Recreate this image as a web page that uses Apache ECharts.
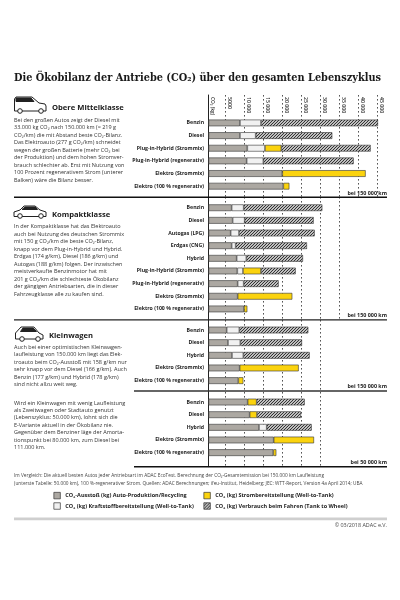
<!DOCTYPE html>
<html><head><meta charset="utf-8">
<style>html,body{margin:0;padding:0;background:#fff}#c{width:400px;height:600px}</style>
<script src="https://cdn.jsdelivr.net/npm/echarts@6/dist/echarts.min.js"></script>
</head><body><div id="c"></div>
<script>
const tickLabels = {5000:'5000',10000:'10 000',15000:'15 000',20000:'20 000',25000:'25 000',30000:'30 000',35000:'35 000',40000:'40 000',45000:'45 000'};
const axisName = 'CO₂ (kg)';

const seriesNames = ['CO₂-Ausstoß (kg) Auto-Produktion/Recycling','CO₂ (kg) Kraftstoffbereitstellung (Well-to-Tank)','CO₂ (kg) Strombereitstellung (Well-to-Tank)','CO₂ (kg) Verbrauch beim Fahren (Tank to Wheel)'];

const cat1 = ['Benzin','Diesel','Plug-in-Hybrid (Strommix)','Plug-in-Hybrid (regenerativ)','Elektro (Strommix)','Elektro (100 % regenerativ)'];
const prod1 = [8760,8760,10690,10520,19900,20170];
const fuel1 = [5530,4130,4650,4390,0,0];
const elec1 = [0,0,4300,0,21930,1580];
const drive1 = [30870,20160,23510,23770,0,0];

const cat2 = ['Benzin','Diesel','Autogas (LPG)','Erdgas (CNG)','Hybrid','Plug-in-Hybrid (Strommix)','Plug-in-Hybrid (regenerativ)','Elektro (Strommix)','Elektro (100 % regenerativ)'];
const prod2 = [6570,6830,6310,6570,7890,8060,8150,8150,9820];
const fuel2 = [3160,3160,2190,1050,2540,1490,1580,0,0];
const elec2 = [0,0,0,0,0,4740,0,14380,870];
const drive2 = [20700,18160,19920,18770,14910,9130,9210,0,0];

const cat3 = ['Benzin','Diesel','Hybrid','Elektro (Strommix)','Elektro (100 % regenerativ)'];
const prod3 = [5260,5610,6660,8680,8330];
const fuel3 = [3330,3240,2980,0,0];
const elec3 = [0,0,0,15530,1310];
const drive3 = [18150,16230,17460,0,0];

const cat4 = ['Benzin','Diesel','Hybrid','Elektro (Strommix)','Elektro (100 % regenerativ)'];
const prod4 = [10780,11310,13770,17630,17530];
const fuel4 = [0,0,2020,0,0];
const elec4 = [2370,1930,0,10610,790];
const drive4 = [12640,11580,11840,0,0];

const bodyTop = ['Bei den großen Autos zeigt der Diesel mit','33.000 kg CO₂ nach 150.000 km (≈ 219 g','CO₂/km) die mit Abstand beste CO₂-Bilanz.','Das Elektroauto (277 g CO₂/km) schneidet','wegen der großen Batterie (mehr CO₂ bei','der Produktion) und dem hohen Stromver-','brauch schlechter ab. Erst mit Nutzung von','100 Prozent regenerativem Strom (unterer','Balken) wäre die Bilanz besser.'];
const bodyMid = ['In der Kompaktklasse hat das Elektroauto','auch bei Nutzung des deutschen Strommix','mit 150 g CO₂/km die beste CO₂-Bilanz,','knapp vor dem Plug-in-Hybrid und Hybrid.','Erdgas (174 g/km), Diesel (186 g/km) und','Autogas (188 g/km) folgen. Der inzwischen','meistverkaufte Benzinmotor hat mit','201 g CO₂/km die schlechteste Ökobilanz','der gängigen Antriebsarten, die in dieser','Fahrzeugklasse alle zu kaufen sind.'];
const bodySmall = ['Auch bei einer optimistischen Kleinwagen-','laufleistung von 150.000 km liegt das Elek-','troauto beim CO₂-Ausstoß mit 158 g/km nur','sehr knapp vor dem Diesel (166 g/km). Auch','Benzin (177 g/km) und Hybrid (178 g/km)','sind nicht allzu weit weg.'];
const bodySmall2 = ['Wird ein Kleinwagen mit wenig Laufleistung','als Zweitwagen oder Stadtauto genutzt','(Lebenszyklus: 50.000 km), lohnt sich die','E-Variante aktuell in der Ökobilanz nie.','Gegenüber dem Benziner läge der Amorta-','tionspunkt bei 80.000 km, zum Diesel bei','111.000 km.'];
const footnote = ['Im Vergleich: Die aktuell besten Autos jeder Antriebsart im ADAC EcoTest. Berechnung der CO₂-Gesamtemission bei 150.000 km Laufleistung','(unterste Tabelle: 50.000 km), 100 %-regenerativer Strom. Quellen: ADAC Berechnungen; ifeu-Institut, Heidelberg; JEC: WTT-Report, Version 4a April 2014; UBA'];

const SANS = '"Open Sans","Noto Sans",sans-serif';
const INK = '#333', GREY = '#aca8a2', YEL = '#fbd30e';
const X0 = 206.7, PXK = 19/5000, BAND = 12.65;
const AXIS_INSET = 470; // the drawn axis line sits slightly right of zero; bars begin at the line

const grid=[], xAxis=[], yAxis=[], series=[];

[[95,197,45000],[197,320,35000],[320,466.7,30000]].forEach((f,i)=>{
  grid.push({left:X0,top:f[0],width:f[2]*PXK,height:f[1]-f[0]});
  xAxis.push({gridIndex:i,type:'value',min:0,max:f[2],interval:5000,position:'top',
    axisLine:{show:false},axisTick:{show:false},
    splitLine:{show:true,showMinLine:false,lineStyle:{color:'#2a2a2a',type:[1.6,2.4],width:.8}},
    axisLabel:i?{show:false}:{show:true,inside:true,rotate:-90,margin:2,align:'left',verticalAlign:'bottom',
      fontFamily:SANS,fontSize:5.2,fontWeight:600,color:'#333',hideOverlap:false,showMinLabel:true,showMaxLabel:true,padding:[0,0,1.3,0],
      formatter:v=>v===0?`{z|${axisName}}`:tickLabels[v],
      rich:{z:{fontFamily:SANS,fontSize:4.8,fontWeight:600,color:'#333',padding:[0,0,2,0]}}}});
  yAxis.push({gridIndex:i,type:'value',min:0,max:1,offset:-1.8,
    axisLine:{show:true,onZero:false,lineStyle:{color:'#222',width:1}},axisTick:{show:false},axisLabel:{show:false},splitLine:{show:false}});
});

// fine diagonal hatch tile
const tile=document.createElement('canvas');tile.width=3;tile.height=3;
(()=>{const c=tile.getContext('2d');c.fillStyle='#fff';c.fillRect(0,0,3,3);c.strokeStyle='#2e2e2e';c.lineWidth=1.15;
  [[-1.5,1.5,1.5,-1.5],[0,3,3,0],[1.5,4.5,4.5,1.5]].forEach(l=>{c.beginPath();c.moveTo(l[0],l[1]);c.lineTo(l[2],l[3]);c.stroke();});})();
const hatch={image:tile,repeat:'repeat'};

const styles = [
  {color:GREY,borderColor:INK,borderWidth:.6},
  {color:'#f1f1f1',borderColor:INK,borderWidth:.6},
  {color:YEL,borderColor:INK,borderWidth:.6},
  {color:hatch,borderColor:INK,borderWidth:.6}
];
const nz = a=>a.map(v=>v===0?null:v);
[[cat1,prod1,fuel1,elec1,drive1,116.6],[cat2,prod2,fuel2,elec2,drive2,201.4],[cat3,prod3,fuel3,elec3,drive3,323.7],[cat4,prod4,fuel4,elec4,drive4,395.7]].forEach((s,k)=>{
  const gi = k+3, n = s[0].length;
  grid.push({left:X0,top:s[5],width:45000*PXK,height:n*BAND});
  xAxis.push({gridIndex:gi,type:'value',min:0,max:45000,show:false,splitLine:{show:false}});
  yAxis.push({gridIndex:gi,type:'category',inverse:true,data:s[0],
    axisLine:{show:false},axisTick:{show:false},splitLine:{show:false},
    axisLabel:{show:true,interval:0,margin:2.6,fontFamily:SANS,fontSize:5.2,fontWeight:700,color:'#222'}});
  const st='s'+k;
  series.push({type:'bar',stack:st,xAxisIndex:gi,yAxisIndex:gi,barWidth:6.7,silent:true,
    itemStyle:{color:'transparent'},data:s[1].map(()=>AXIS_INSET)});
  seriesNames.forEach((nm,j)=>{
    const vals = j===0 ? s[1].map(v=>v-AXIS_INSET) : nz(s[j+1]);
    series.push({type:'bar',name:nm,stack:st,xAxisIndex:gi,yAxisIndex:gi,barWidth:6.7,itemStyle:styles[j],data:vals});
  });
});

const T=(text,x,y,o={})=>({type:'text',x,y,silent:true,style:Object.assign({text,fill:'#333',font:`400 5.5px ${SANS}`,textAlign:'left',textVerticalAlign:'middle'},o)});
const block=(lines,x,y,step)=>lines.map((l,i)=>T(l,x,y+i*step));
const rule=(x1,x2,y,h,fill)=>({type:'rect',shape:{x:x1,y,width:x2-x1,height:h},style:{fill},z:5,silent:true});
const poly=(points,fill,stroke)=>({type:'polygon',shape:{points},style:{fill,stroke,lineWidth:1},z:6,silent:true});
const wheel=(cx,cy)=>({type:'circle',shape:{cx,cy,r:2.3},style:{fill:'#fff',stroke:'#222',lineWidth:1},z:7,silent:true});

const graphic=[
  T('Die Ökobilanz der Antriebe (CO₂) über den gesamten Lebenszyklus',14,78,{font:`700 10.85px "DejaVu Serif Condensed","DejaVu Serif",serif`,fill:'#1a1a1a'}),
  T('Obere Mittelklasse',52,108,{font:`700 7.6px ${SANS}`,fill:'#1a1a1a'}),
  T('Kompaktklasse',52,214.5,{font:`700 7.6px ${SANS}`,fill:'#1a1a1a'}),
  T('Kleinwagen',49,336,{font:`700 7.6px ${SANS}`,fill:'#1a1a1a'}),
  ...block(bodyTop,14,120,7.55),
  ...block(bodyMid,14,226.8,7.5),
  ...block(bodySmall,14,347.3,7.5),
  ...block(bodySmall2,14,403,7.45),
  ...block(footnote,14,476,7.2).map(e=>{e.style.font=`400 4.75px ${SANS}`;e.style.fill='#444';return e;}),
  T('bei 150 000 km',387,193,{textAlign:'right',font:`700 5.4px ${SANS}`,fill:'#222'}),
  T('bei 150 000 km',387,315,{textAlign:'right',font:`700 5.4px ${SANS}`,fill:'#222'}),
  T('bei 150 000 km',387,386.7,{textAlign:'right',font:`700 5.4px ${SANS}`,fill:'#222'}),
  T('bei 50 000 km',387,462,{textAlign:'right',font:`700 5.4px ${SANS}`,fill:'#222'}),
  T('© 03/2018 ADAC e.V.',387,525.5,{textAlign:'right',font:`400 5.4px ${SANS}`,fill:'#444'}),
  rule(14,387,196.6,1.4,'#111'), rule(14,387,319.3,1.2,'#222'),
  rule(134,387,390.2,1.6,'#333'), rule(134,387,466,1.4,'#111'),
  rule(14,387,517.5,2.8,'#cfcfcf'),
  poly([[14.5,99],[16,97],[32,97],[39,103],[45,104],[46,106],[46,111],[14.5,111]],'#fff','#222'),
  poly([[16,98],[31,98],[34,101.5],[16,101.5]],'#222','#222'),
  wheel(20,111),wheel(41,111),
  poly([[14,212],[20,210],[24,206],[35,206],[40,210],[46,212],[46,216.5],[14,216.5]],'#fff','#222'),
  poly([[22,209.5],[25,207],[35,207],[37.5,209.5]],'#222','#222'),
  wheel(20,216),wheel(41,216),
  poly([[15.5,333],[21,327],[34,327],[39,333],[43,335],[43,339],[15.5,339]],'#fff','#222'),
  poly([[20.5,331.5],[23,328],[33,328],[36.5,331.5]],'#222','#222'),
  wheel(22,339),wheel(38,339)
];

const legendBase={orient:'vertical',padding:0,icon:'rect',itemWidth:6.5,itemHeight:6.5,itemGap:3.2,selectedMode:false,
  itemStyle:{borderWidth:.7,borderColor:'#333'},
  textStyle:{fontFamily:SANS,fontSize:5.5,fontWeight:700,color:'#222'}};

const chart=echarts.init(document.getElementById('c'),null,{renderer:'canvas',width:400,height:600});
chart.setOption({animation:false,backgroundColor:'#fff',
  grid,xAxis,yAxis,series,graphic:{elements:graphic},
  legend:[
    Object.assign({},legendBase,{left:53.5,top:492,data:[seriesNames[0],seriesNames[1]]}),
    Object.assign({},legendBase,{left:203.5,top:492,data:[seriesNames[2],seriesNames[3]]})
  ]});
</script></body></html>
